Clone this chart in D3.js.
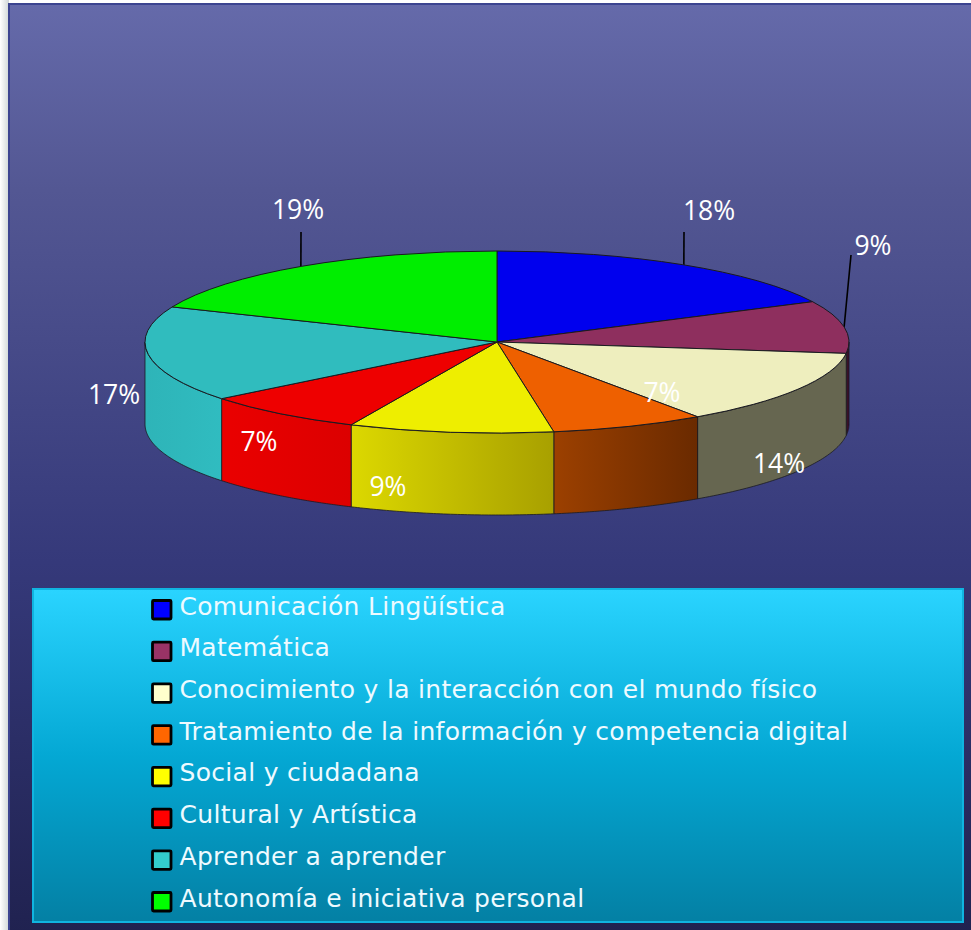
<!DOCTYPE html>
<html><head><meta charset="utf-8">
<script src="https://cdn.jsdelivr.net/npm/d3@7/dist/d3.min.js"></script>
<style>html,body{margin:0;padding:0;background:#fff;overflow:hidden}svg{display:block}</style>
</head><body><div id="chart"></div>
<script>
const categories = ["Comunicación Lingüística","Matemática","Conocimiento y la interacción con el mundo físico","Tratamiento de la información y competencia digital","Social y ciudadana","Cultural y Artística","Aprender a aprender","Autonomía e iniciativa personal"];
const values = [17.7,9.3,13.35,7.07,9.38,7.5,17,18.7];
const pctLabels = ["18%","9%","14%","7%","9%","7%","17%","19%"];
const legendColors = ["#0000ff","#993366","#ffffcc","#ff6600","#ffff00","#ff0000","#33cccc","#00ff00"];
const topColors = ["#0000ee","#8e2f5e","#eeeebe","#ee6000","#eeee00","#ee0000","#30bcbe","#00ee00"];
const wallFrom = ["#000060","#3a1028","#666650","#9c4000","#dcd800","#ea0000","#2eb4b8","#006000"];
const wallTo = ["#000060","#3a1028","#666650","#6a2a00","#a8a000","#dc0000","#30bcc0","#006000"];
// label centres, leader ends and leader foot nudges (degrees), per slice
const labelAt = [[709,209],[873,244],[779,462],[662,391],[388,485],[259,440],[114,393],[298,208]];
const leaderEnd = [[684,232],[851,255],null,null,null,null,null,[301,232]];
const footNudge = [0.2,0,0,0,0,0,0,-0.2];

const W=971,H=930,cx=497,cy=342,rx=352,ry=91,depth=82;
const svg=d3.select("#chart").append("svg").attr("width",W).attr("height",H);
const defs=svg.append("defs");
function lin(id,stops,horizontal){
  const g=defs.append("linearGradient").attr("id",id).attr("x1",0).attr("y1",0).attr("x2",horizontal?1:0).attr("y2",horizontal?0:1);
  stops.forEach(s=>g.append("stop").attr("offset",s[0]).attr("stop-color",s[1]));
}
lin("panel",[[0,"#656aaa"],[.2,"#535793"],[.6,"#35397a"],[1,"#202250"]]);
lin("leg",[[0,"#2ad4ff"],[.5,"#04a8d4"],[1,"#0480a4"]]);
lin("edge",[[0,"#ffffff"],[1,"#cfd6d6"]],true);
svg.append("rect").attr("x",0).attr("y",0).attr("width",9).attr("height",H).attr("fill","url(#edge)");
svg.append("rect").attr("x",9).attr("y",4).attr("width",W).attr("height",H).attr("fill","url(#panel)").attr("stroke","#3c4490").attr("stroke-width",2);
svg.append("rect").attr("x",33).attr("y",589).attr("width",930).attr("height",333).attr("fill","url(#leg)").attr("stroke","#10b4e0").attr("stroke-width",2);

const pie=d3.pie().sort(null).startAngle(0).endAngle(2*Math.PI)(values);
const px=a=>cx+rx*Math.sin(a), py=a=>cy-ry*Math.cos(a);
const line=d3.line().x(d=>d[0]).y(d=>d[1]);
pie.forEach((d,i)=>{
  const a0=Math.max(d.startAngle,Math.PI/2),a1=Math.min(d.endAngle,3*Math.PI/2);
  if(a1<=a0)return;
  lin("w"+i,[[0,wallFrom[i]],[1,wallTo[i]]],true);
  const as=d3.range(0,61).map(k=>a1+(a0-a1)*k/60);
  const pts=as.map(a=>[px(a),py(a)]).concat(as.slice().reverse().map(a=>[px(a),py(a)+depth]));
  svg.append("path").attr("d",line(pts)+"Z").attr("fill","url(#w"+i+")").attr("stroke","#1a1a20").attr("stroke-width",1).attr("stroke-opacity",.8);
});
// leader lines behind the top
pie.forEach((d,i)=>{
  if(!leaderEnd[i])return;
  const m=(d.startAngle+d.endAngle)/2+footNudge[i]*Math.PI/180;
  svg.append("line").attr("x1",px(m)).attr("y1",py(m)).attr("x2",leaderEnd[i][0]).attr("y2",leaderEnd[i][1]).attr("stroke","#000").attr("stroke-width",1.6);
});
const arc=d3.arc().innerRadius(0).outerRadius(rx);
const topFace=svg.append("g").attr("transform",`translate(${cx},${cy}) scale(1,${ry/rx})`);
topFace.selectAll("path").data(pie).join("path").attr("d",arc).attr("fill",(d,i)=>topColors[i])
  .attr("stroke","#1a1a20").attr("stroke-width",1).attr("vector-effect","non-scaling-stroke");

svg.selectAll("text.pct").data(pctLabels).join("text").attr("class","pct")
  .attr("x",(d,i)=>labelAt[i][0]).attr("y",(d,i)=>labelAt[i][1]+10.5).attr("text-anchor","middle")
  .attr("font-family","'Open Sans'").attr("font-weight",400).attr("font-size",26.5).attr("fill","#fff").text(d=>d);

const rows=d3.scalePoint().domain(categories).range([610,902]);
const leg=svg.selectAll("g.l").data(categories).join("g").attr("class","l").attr("transform",d=>`translate(0,${rows(d)})`);
leg.append("rect").attr("x",152.5).attr("y",-9.5).attr("width",18.5).attr("height",18.5).attr("rx",1)
  .attr("fill",(d,i)=>legendColors[i]).attr("stroke","#000").attr("stroke-width",2.8);
leg.append("text").attr("x",179.5).attr("y",4.5).attr("font-family","'DejaVu Sans'").attr("font-size",25).attr("letter-spacing",0.3).attr("fill","#eefaff").text(d=>d);
</script></body></html>
